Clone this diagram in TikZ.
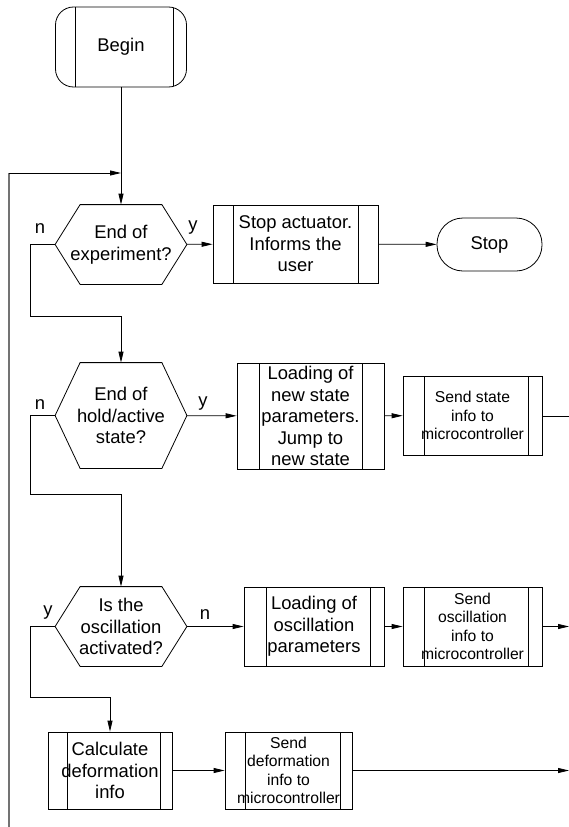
\documentclass[tikz,border=0pt]{standalone}
\usepackage{fontspec}
\setmainfont{Liberation Sans}
\usetikzlibrary{arrows.meta}
\tikzset{
  arr/.style={-{Triangle[length=11bp,width=5bp]}},
  proc/.style 2 args={draw, rectangle, align=center, inner sep=0pt,
    path picture={
      \draw ([xshift=#1]path picture bounding box.south west) -- ([xshift=#1]path picture bounding box.north west)
            ([xshift=-#2]path picture bounding box.south east) -- ([xshift=-#2]path picture bounding box.north east);}},
}

\begin{document}
\begin{tikzpicture}[
  x=1bp, y=-1bp,
  line width=0.8bp,
  every node/.style={font=\fontsize{18.4bp}{21.5bp}\selectfont},
  small/.style={font=\fontsize{15.7bp}{18.3bp}\selectfont},
  dec/.style={align=center, inner sep=0pt, minimum width=131bp},
  term/.style={draw, rounded corners=26bp, minimum width=105bp, minimum height=53bp},
  lbl/.style={inner sep=0pt},
  loop/.style={draw=black!55, line width=1.3bp},
]
\useasboundingbox (0,0) rectangle (569,827);

%% ---- start / stop ----
\node[proc={20bp}{13bp}, rounded corners=18bp, minimum width=131bp, minimum height=80bp] (begin) at (121,47) {Begin};
\node[term] (stop) at (489.5,244.5) {Stop};

%% ---- decisions (hexagons drawn below) ----
\node[dec, minimum height=79bp]  (endexp)  at (121,244.5) {End of\\experiment?};
\node[dec, minimum height=105bp] (endstate) at (121,415.5) {End of\\hold/active\\state?};
\node[dec, minimum height=79bp]  (oscon)   at (121,626.5) {Is the\\oscillation\\activated?};
\foreach \d in {endexp,endstate,oscon}
  \draw ([xshift=25bp]\d.north west) -- ([xshift=-25bp]\d.north east) -- (\d.east)
        -- ([xshift=-25bp]\d.south east) -- ([xshift=25bp]\d.south west) -- (\d.west) -- cycle;

%% ---- process boxes ----
\node[proc={20bp}{20bp}, minimum width=165bp, minimum height=78bp]  (stopact)  at (295.5,244) {Stop actuator.\\Informs the\\user};
\node[proc={22bp}{22bp}, minimum width=147bp, minimum height=106bp] (loadst)   at (310.5,416) {Loading of\\new state\\parameters.\\Jump to\\new state};
\node[proc={21bp}{14bp}, minimum width=139bp, minimum height=79bp, small]  (sendst)   at (472.5,415.5) {Send state\\info to\\microcontroller};
\node[proc={22bp}{14bp}, minimum width=140bp, minimum height=79bp]  (loadosc)  at (314,626.5) {Loading of\\oscillation\\parameters};
\node[proc={21bp}{14bp}, minimum width=139bp, minimum height=79bp, small]  (sendosc)  at (472.5,626.5) {Send\\oscillation\\info to\\microcontroller};
\node[proc={19bp}{12bp}, minimum width=124bp, minimum height=77bp]  (calcdef)  at (110,770.5) {Calculate\\deformation\\info};
\node[proc={20bp}{12bp}, minimum width=127bp, minimum height=77bp, small]  (senddef)  at (288.5,770.5) {Send\\deformation\\info to\\microcontroller};

%% ---- branch labels ----
\node[lbl] (n1) at (40,229) {n};
\node[lbl] (y1) at (193,228) {y};
\node[lbl] (n2) at (40,405) {n};
\node[lbl] (y2) at (203,404) {y};
\node[lbl] (y3) at (48,613) {y};
\node[lbl] (n3) at (205,615) {n};

%% ---- helper points (corners and exits off the edge) ----
\coordinate (loopbot) at (9,827);
\coordinate (loopin)  at (121,173);
\coordinate (c1) at (30,244.5);
\coordinate (j1) at (121,316);
\coordinate (c2) at (30,415.5);
\coordinate (j2) at (121,494);
\coordinate (c3) at (30,626.5);
\coordinate (j3) at (110,697);
\coordinate (out1) at (569,416);
\coordinate (out2) at (569,626.5);
\coordinate (out3) at (569,770.5);

%% ---- connectors ----
\draw[arr] (begin) -- (endexp);
\draw[loop] (loopbot) -- (loopbot |- loopin);
\draw[arr] (loopbot |- loopin) -- (loopin);
\draw[arr] (endexp) -- (stopact);
\draw[arr] (stopact) -- (stop);
\draw[arr] (endexp.west) -- (c1) |- (j1) -- (endstate.north);
\draw[arr] (endstate) -- (loadst);
\draw[arr] (loadst) -- (sendst);
\draw (sendst.east |- out1) -- (out1);
\draw[arr] (endstate.west) -- (c2) |- (j2) -- (oscon.north);
\draw[arr] (oscon) -- (loadosc);
\draw[arr] (loadosc) -- (sendosc);
\draw[arr] (sendosc.east |- out2) -- (out2);
\draw[arr] (oscon.west) -- (c3) |- (j3) -- (calcdef.north);
\draw[arr] (calcdef) -- (senddef);
\draw[arr] (senddef) -- (out3);
\end{tikzpicture}
\end{document}
